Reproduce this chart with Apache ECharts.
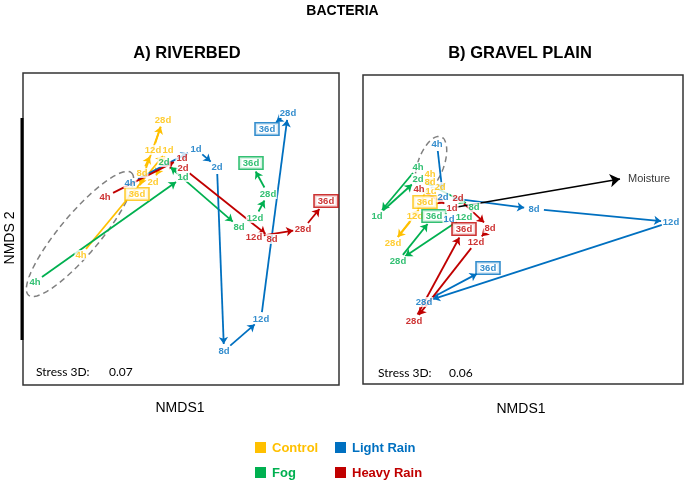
<!DOCTYPE html>
<html><head><meta charset="utf-8">
<script src="https://cdn.jsdelivr.net/npm/echarts@6/dist/echarts.min.js"></script>
<style>html,body{margin:0;padding:0;background:#fff}#c{width:685px;height:480px}</style>
</head><body><div id="c"></div>
<script>
// ---- data (NMDS positions, in panel units) ----
const times = ['4h','1d','2d','8d','12d','28d','36d'];
const treatments = ['Control','Fog','Light Rain','Heavy Rain'];
const colors = ['#FFC000','#00B050','#0070C0','#C00000'];

// A) Riverbed
const rivControlX = [81,168,153,142,153,163,137];
const rivControlY = [255,150,182,173,150,120,194];
const rivFogX = [35,183,164,239,255,268,251];
const rivFogY = [282,177,162,227,218,194,163];
const rivLightX = [130,196,217,224,261,288,267];
const rivLightY = [183,149,167,351,319,113,129];
const rivHeavyX = [105,182,183,272,254,303,326];
const rivHeavyY = [197,158,168,239,237,229,201];

// B) Gravel plain
const grvControlX = [430,431,440,430,415,393,425];
const grvControlY = [174,191,187,182,216,243,202];
const grvFogX = [418,377,418,474,464,398,434];
const grvFogY = [167,216,179,207,217,261,216];
const grvLightX = [437,449,443,534,671,424,488];
const grvLightY = [144,219,197,209,222,302,268];
const grvHeavyX = [419,452,458,490,476,414,464];
const grvHeavyY = [189,208,198,228,242,321,229];

// trajectory links (index pairs into times)
const chain = [[0,1],[1,2],[2,3],[3,4],[4,5],[5,6]];
const grvLightLinks = [[0,2],[2,3],[3,4],[4,5],[5,6]];

// moisture vector (gravel plain)
const moistureFrom = [457,207];
const moistureTo = [620,179];

// groupings (dashed ellipses): cx, cy, semi-major, semi-minor, angle(deg)
const ellipseRiv = [80,234,80,20,-50];
const ellipseGrv = [431,164,29,13,110];

const stress = ['0.07','0.06'];
const panelTitles = ['A) RIVERBED','B) GRAVEL PLAIN'];

// ---- build ----
const panels = [
  {xs:[rivControlX,rivFogX,rivLightX,rivHeavyX], ys:[rivControlY,rivFogY,rivLightY,rivHeavyY], links:[chain,chain,chain,chain], ell: ellipseRiv},
  {xs:[grvControlX,grvFogX,grvLightX,grvHeavyX], ys:[grvControlY,grvFogY,grvLightY,grvHeavyY], links:[chain,chain,grvLightLinks,chain], ell: ellipseGrv}
];

function halfSize(label){ return label==='36d' ? [14,8] : [9,6]; }
function shrink(p,q,lp,lq){
  const dx=q[0]-p[0], dy=q[1]-p[1], L=Math.hypot(dx,dy);
  if(L<1) return null;
  const c=dx/L, s=dy/L;
  const r=(h)=>1/Math.sqrt((c/h[0])**2+(s/h[1])**2);
  const r0=r(halfSize(lp))+1, r1=r(halfSize(lq))+1;
  if(L-r0-r1<3) return null;
  return [[p[0]+c*r0,p[1]+s*r0],[q[0]-c*r1,q[1]-s*r1]];
}

const series=[];
panels.forEach((pn,pi)=>{
  treatments.forEach((t,ti)=>{
    const pts = pn.xs[ti].map((x,i)=>[x,pn.ys[ti][i]]);
    const lineData=[];
    pn.links[ti].forEach(([a,b])=>{
      const seg=shrink(pts[a],pts[b],times[a],times[b]);
      if(seg) lineData.push({coords:seg});
    });
    series.push({
      type:'lines', coordinateSystem:'cartesian2d', xAxisIndex:pi, yAxisIndex:pi,
      name:t, symbol:['none','arrow'], symbolSize:[0,7], z:3,
      lineStyle:{color:colors[ti], width:1.8, opacity:1, curveness:0},
      data:lineData, silent:true
    });
    series.push({
      type:'scatter', xAxisIndex:pi, yAxisIndex:pi, name:t, symbolSize:0, z:5,
      itemStyle:{color:colors[ti]},
      label:{show:true, position:'inside', formatter:'{b}', color:colors[ti],
             fontFamily:'Liberation Sans', fontWeight:'bold', fontSize:9.5,
             backgroundColor:'#fff', padding:[0,1]},
      data: pts.map((p,i)=>{
        const d={name:times[i], value:p};
        if(times[i]==='36d'){
          d.label={borderColor:colors[ti], borderWidth:1.6, padding:[1,3,0,3], backgroundColor:'#fff'};
        }
        return d;
      })
    });
  });
  // dashed ellipse
  series.push({
    type:'custom', xAxisIndex:pi, yAxisIndex:pi, z:2, silent:true,
    data:[pn.ell],
    renderItem:(params,api)=>{
      const cx=api.value(0), cy=api.value(1), a=api.value(2), b=api.value(3), th=api.value(4)*Math.PI/180;
      const pts=[];
      for(let k=0;k<72;k++){
        const u=k/72*2*Math.PI;
        pts.push(api.coord([cx+a*Math.cos(u)*Math.cos(th)-b*Math.sin(u)*Math.sin(th),
                            cy+a*Math.cos(u)*Math.sin(th)+b*Math.sin(u)*Math.cos(th)]));
      }
      return {type:'polygon', shape:{points:pts}, style:{fill:'none', stroke:'#808080', lineWidth:1.5, lineDash:[6,4]}};
    }
  });
});
// moisture arrow
series.push({
  type:'lines', coordinateSystem:'cartesian2d', xAxisIndex:1, yAxisIndex:1, z:4,
  symbol:['none','arrow'], symbolSize:[0,10],
  lineStyle:{color:'#000', width:1.6, opacity:1},
  data:[{coords:[moistureFrom,moistureTo]}]
});
series.push({
  type:'scatter', xAxisIndex:1, yAxisIndex:1, symbolSize:0, z:5,
  label:{show:true, position:'right', distance:8, formatter:'{b}', color:'#000', fontFamily:'Liberation Sans', fontSize:11},
  data:[{name:'Moisture', value:moistureTo}]
});

const chart = echarts.init(document.getElementById('c'), null, {renderer:'canvas'});
const font='Liberation Sans';
const graphic=[
  {type:'text', left:'center', top:4, style:{text:'BACTERIA', font:'bold 14px '+font, fill:'#000'}},
  {type:'text', x:187, y:53, style:{text:panelTitles[0], font:'bold 16.5px '+font, fill:'#000', textAlign:'center', textVerticalAlign:'middle'}},
  {type:'text', x:520, y:53, style:{text:panelTitles[1], font:'bold 16.5px '+font, fill:'#000', textAlign:'center', textVerticalAlign:'middle'}},
  {type:'text', x:180, y:408, style:{text:'NMDS1', font:'14px '+font, fill:'#000', textAlign:'center', textVerticalAlign:'middle'}},
  {type:'text', x:521, y:409, style:{text:'NMDS1', font:'14px '+font, fill:'#000', textAlign:'center', textVerticalAlign:'middle'}},
  {type:'text', x:10, y:238, rotation:Math.PI/2, style:{text:'NMDS 2', font:'14px '+font, fill:'#000', textAlign:'center', textVerticalAlign:'middle'}},
  {type:'text', x:36, y:372, style:{text:'Stress 3D:', font:'12px Lato', fill:'#000', textVerticalAlign:'middle'}},
  {type:'text', x:109, y:372, style:{text:stress[0], font:'12px Lato', fill:'#000', textVerticalAlign:'middle'}},
  {type:'text', x:378, y:373, style:{text:'Stress 3D:', font:'12px Lato', fill:'#000', textVerticalAlign:'middle'}},
  {type:'text', x:449, y:373, style:{text:stress[1], font:'12px Lato', fill:'#000', textVerticalAlign:'middle'}},
  {type:'line', shape:{x1:22, y1:118, x2:22, y2:340}, style:{stroke:'#000', lineWidth:3}}
];
// legend (2x2)
const legPos=[[255,442],[255,467],[335,442],[335,467]];
treatments.forEach((t,i)=>{
  graphic.push({type:'rect', shape:{x:legPos[i][0], y:legPos[i][1], width:11, height:11}, style:{fill:colors[i]}});
  graphic.push({type:'text', x:legPos[i][0]+17, y:legPos[i][1]+6, style:{text:t, font:'bold 13px '+font, fill:colors[i], textVerticalAlign:'middle'}});
});

chart.setOption({
  animation:false,
  grid:[
    {left:23, top:73, width:316, height:312, show:true, borderColor:'#333', borderWidth:1.5},
    {left:363, top:75, width:320, height:309, show:true, borderColor:'#333', borderWidth:1.5}
  ],
  xAxis:[
    {type:'value', gridIndex:0, min:23, max:339, show:false},
    {type:'value', gridIndex:1, min:363, max:683, show:false}
  ],
  yAxis:[
    {type:'value', gridIndex:0, min:73, max:385, inverse:true, show:false},
    {type:'value', gridIndex:1, min:75, max:384, inverse:true, show:false}
  ],
  graphic:graphic,
  series:series
});
</script></body></html>
